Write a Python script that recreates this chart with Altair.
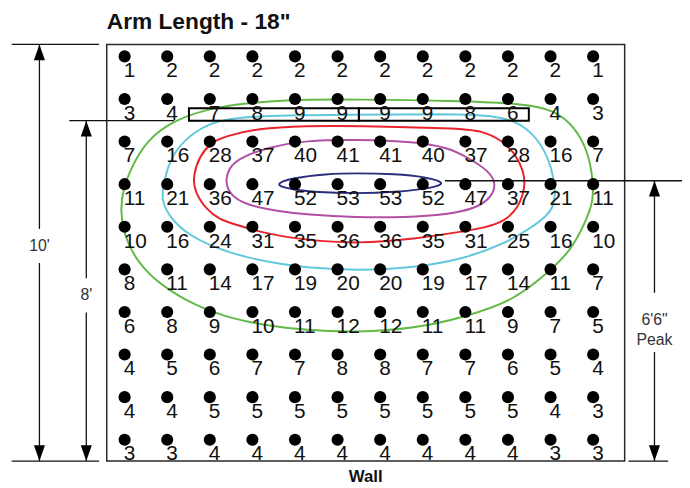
import altair as alt
import pandas as pd

# ---------------- data (units: 1 = one grid step, y measured up from the floor) ----------------
values = [
    [1, 2, 2, 2, 2, 2, 2, 2, 2, 2, 2, 1],
    [3, 4, 7, 8, 9, 9, 9, 9, 8, 6, 4, 3],
    [7, 16, 28, 37, 40, 41, 41, 40, 37, 28, 16, 7],
    [11, 21, 36, 47, 52, 53, 53, 52, 47, 37, 21, 11],
    [10, 16, 24, 31, 35, 36, 36, 35, 31, 25, 16, 10],
    [8, 11, 14, 17, 19, 20, 20, 19, 17, 14, 11, 7],
    [6, 8, 9, 10, 11, 12, 12, 11, 11, 9, 7, 5],
    [4, 5, 6, 7, 7, 8, 8, 7, 7, 6, 5, 4],
    [4, 4, 5, 5, 5, 5, 5, 5, 5, 5, 4, 3],
    [3, 3, 4, 4, 4, 4, 4, 4, 4, 4, 3, 3],
]
col_pos = [0.5, 1.5, 2.5, 3.5, 4.5, 5.5, 6.5, 7.5, 8.5, 9.5, 10.5, 11.5]
row_pos = [9.5, 8.5, 7.5, 6.5, 5.5, 4.5, 3.5, 2.5, 1.5, 0.5]

contour_names = ["green", "cyan", "red", "purple", "navy"]
contour_colors = ["#62b946", "#62c8de", "#e8232b", "#b24fa3", "#2b2e7c"]
green_x = [5.93, 8.25, 9.87, 10.60, 11.08, 11.38, 11.50, 11.50, 11.36, 10.98, 10.41, 9.64, 8.48, 7.32, 5.93,
           4.77, 3.77, 2.84, 1.91, 1.20, 0.72, 0.48, 0.40, 0.46, 0.66, 1.02, 1.64, 2.66, 4.31]
green_y = [8.49, 8.46, 8.39, 8.24, 7.83, 7.27, 6.58, 6.11, 5.70, 4.93, 4.40, 3.77, 3.38, 3.11, 3.02,
           3.07, 3.19, 3.38, 3.77, 4.24, 4.79, 5.35, 5.88, 6.38, 6.90, 7.53, 8.00, 8.34, 8.49]
cyan_x = [5.93, 8.09, 9.25, 9.84, 10.30, 10.53, 10.62, 10.58, 10.43, 10.04, 9.41, 8.48, 7.32, 5.93,
          4.77, 4.14, 3.38, 2.61, 1.96, 1.56, 1.37, 1.40, 1.55, 1.88, 2.43, 3.21]
cyan_y = [8.13, 8.15, 8.11, 7.92, 7.44, 6.88, 6.35, 6.00, 5.77, 5.47, 5.10, 4.75, 4.54, 4.47,
          4.54, 4.63, 4.77, 5.01, 5.33, 5.72, 6.11, 6.45, 7.06, 7.53, 7.92, 8.11]
red_x = [5.93, 8.25, 8.90, 9.37, 9.68, 9.87, 9.91, 9.74, 9.43, 8.93, 8.48, 7.32, 5.93, 4.77, 3.84,
         3.07, 2.73, 2.42, 2.13, 2.11, 2.26, 2.54, 2.84, 3.61, 4.77]
red_y = [7.87, 7.81, 7.76, 7.52, 7.20, 6.81, 6.42, 5.94, 5.63, 5.47, 5.40, 5.21, 5.10, 5.19, 5.33,
         5.56, 5.67, 5.90, 6.35, 6.70, 7.17, 7.48, 7.62, 7.81, 7.87]
purple_x = [5.93, 7.32, 8.09, 8.57, 9.05, 9.23, 9.10, 8.73, 8.09, 7.09, 5.93, 4.77, 4.14, 3.36, 2.94,
            2.86, 2.99, 3.24, 3.84, 4.77]
purple_y = [7.55, 7.50, 7.36, 7.12, 6.81, 6.51, 6.17, 5.93, 5.79, 5.72, 5.72, 5.79, 5.86, 6.00, 6.27,
            6.63, 6.94, 7.13, 7.36, 7.53]
navy_x = [3.98, 4.45, 5.23, 5.93, 6.86, 7.57, 8.08, 7.69, 6.86, 5.93, 5.00, 4.40]
navy_y = [6.49, 6.65, 6.74, 6.76, 6.74, 6.67, 6.53, 6.40, 6.31, 6.28, 6.31, 6.38]

# wall frame and fixture box
frame_x = [0.08, 12.24]
frame_y = [0.0, 9.78]
box_x = [2.01, 6.00, 9.99]
box_y = [7.99, 8.28]

# dimension segments: x, x2, y, y2
seg_x = [-2.15, -2.15, -0.80, -1.50, -1.50, -0.40, -0.40, 8.02, 12.94, 12.94, 12.33]
seg_x2 = [-0.10, -0.10, 1.66, -1.50, -1.50, -0.40, -0.40, 13.59, 12.94, 12.94, 13.26]
seg_y = [9.78, 0.0, 7.99, 0.0, 5.45, 0.0, 4.29, 6.58, 0.0, 3.95, 0.0]
seg_y2 = [9.78, 0.0, 7.99, 4.65, 9.78, 3.49, 7.99, 6.58, 2.56, 6.58, 0.0]

up_x = [-1.50, -0.40, 12.94]
up_y = [9.78, 7.99, 6.58]
down_x = [-1.50, -0.40, 12.94]
down_y = [0.0, 0.0, 0.0]

dim_text = ["10'", "8'", "6'6\"", "Peak"]
dim_x = [-1.50, -0.40, 12.94, 12.94]
dim_y = [5.05, 3.89, 3.31, 2.84]

title_text = "Arm Length - 18\""
wall_text = "Wall"

# ---------------- tables ----------------
grid_rows = []
for j, ry in enumerate(row_pos):
    for i, cx in enumerate(col_pos):
        grid_rows.append({"x": cx, "y": ry, "v": str(values[j][i])})
grid_df = pd.DataFrame(grid_rows)

cont_rows = []
for name, xs, ys in [("green", green_x, green_y), ("cyan", cyan_x, cyan_y), ("red", red_x, red_y),
                     ("purple", purple_x, purple_y), ("navy", navy_x, navy_y)]:
    for k, (a, b) in enumerate(zip(xs, ys)):
        cont_rows.append({"name": name, "k": k, "x": a, "y": b})
cont_df = pd.DataFrame(cont_rows)

seg_df = pd.DataFrame({"x": seg_x, "x2": seg_x2, "y": seg_y, "y2": seg_y2})
up_df = pd.DataFrame({"x": up_x, "y": up_y})
down_df = pd.DataFrame({"x": down_x, "y": down_y})
dim_df = pd.DataFrame({"x": dim_x, "y": dim_y, "t": dim_text})
frame_df = pd.DataFrame({"x": [frame_x[0]], "x2": [frame_x[1]], "y": [frame_y[0]], "y2": [frame_y[1]]})
box_df = pd.DataFrame({"x": box_x[:-1], "x2": box_x[1:], "y": [box_y[0]] * 2, "y2": [box_y[1]] * 2})
title_df = pd.DataFrame({"x": [frame_x[0]], "y": [10.15], "t": [title_text]})
wall_df = pd.DataFrame({"x": [6.16], "y": [-0.50], "t": [wall_text]})

W, H = 682, 480
xs_ = alt.Scale(domain=[-2.238, 13.586], nice=False, zero=False)
ys_ = alt.Scale(domain=[-0.567, 10.570], nice=False, zero=False)
X = alt.X("x:Q", scale=xs_, axis=None)
Y = alt.Y("y:Q", scale=ys_, axis=None)

frame = alt.Chart(frame_df).mark_rect(fillOpacity=0, stroke="#2a2a2a", strokeWidth=1.5).encode(
    x=X, x2="x2:Q", y=Y, y2="y2:Q")

contours = alt.Chart(cont_df).mark_line(interpolate="basis-closed", strokeWidth=2).encode(
    x=X, y=Y, order="k:Q",
    color=alt.Color("name:N", scale=alt.Scale(domain=contour_names, range=contour_colors), legend=None))

box = alt.Chart(box_df).mark_rect(fillOpacity=0, stroke="#000000", strokeWidth=2).encode(
    x=X, x2="x2:Q", y=Y, y2="y2:Q")

segs = alt.Chart(seg_df).mark_rule(color="#111111", strokeWidth=1.3).encode(
    x=X, x2="x2:Q", y=Y, y2="y2:Q")

up = alt.Chart(up_df).mark_point(shape="M 0 0 L 0.7 2 L -0.7 2 Z", filled=True, size=256,
                                 color="#000000", opacity=1, strokeWidth=0).encode(x=X, y=Y)
down = alt.Chart(down_df).mark_point(shape="M 0 0 L 0.7 -2 L -0.7 -2 Z", filled=True, size=256,
                                     color="#000000", opacity=1, strokeWidth=0).encode(x=X, y=Y)

dots = alt.Chart(grid_df).mark_circle(size=150, color="#000000", opacity=1).encode(x=X, y=Y)
nums = alt.Chart(grid_df).mark_text(align="left", baseline="alphabetic", dx=-1, dy=21,
                                    font="Liberation Sans", fontSize=21, color="#111111").encode(
    x=X, y=Y, text="v:N")

dims = alt.Chart(dim_df).mark_text(align="center", baseline="middle", font="Liberation Sans",
                                   fontSize=16, color="#333333").encode(x=X, y=Y, text="t:N")
title = alt.Chart(title_df).mark_text(align="left", baseline="alphabetic", font="Liberation Sans",
                                      fontSize=23, fontWeight="bold", color="#111111").encode(
    x=X, y=Y, text="t:N")
wall = alt.Chart(wall_df).mark_text(align="center", baseline="alphabetic", font="Liberation Sans",
                                    fontSize=17, fontWeight="bold", color="#111111").encode(
    x=X, y=Y, text="t:N")

chart = alt.layer(frame, contours, box, segs, dots, nums, up, down, dims, title, wall).properties(
    width=W, height=H, padding=0, autosize=alt.AutoSizeParams(type="none")
).configure_view(stroke=None)

chart.save("out.html", embed_options={"renderer": "svg", "actions": False})
